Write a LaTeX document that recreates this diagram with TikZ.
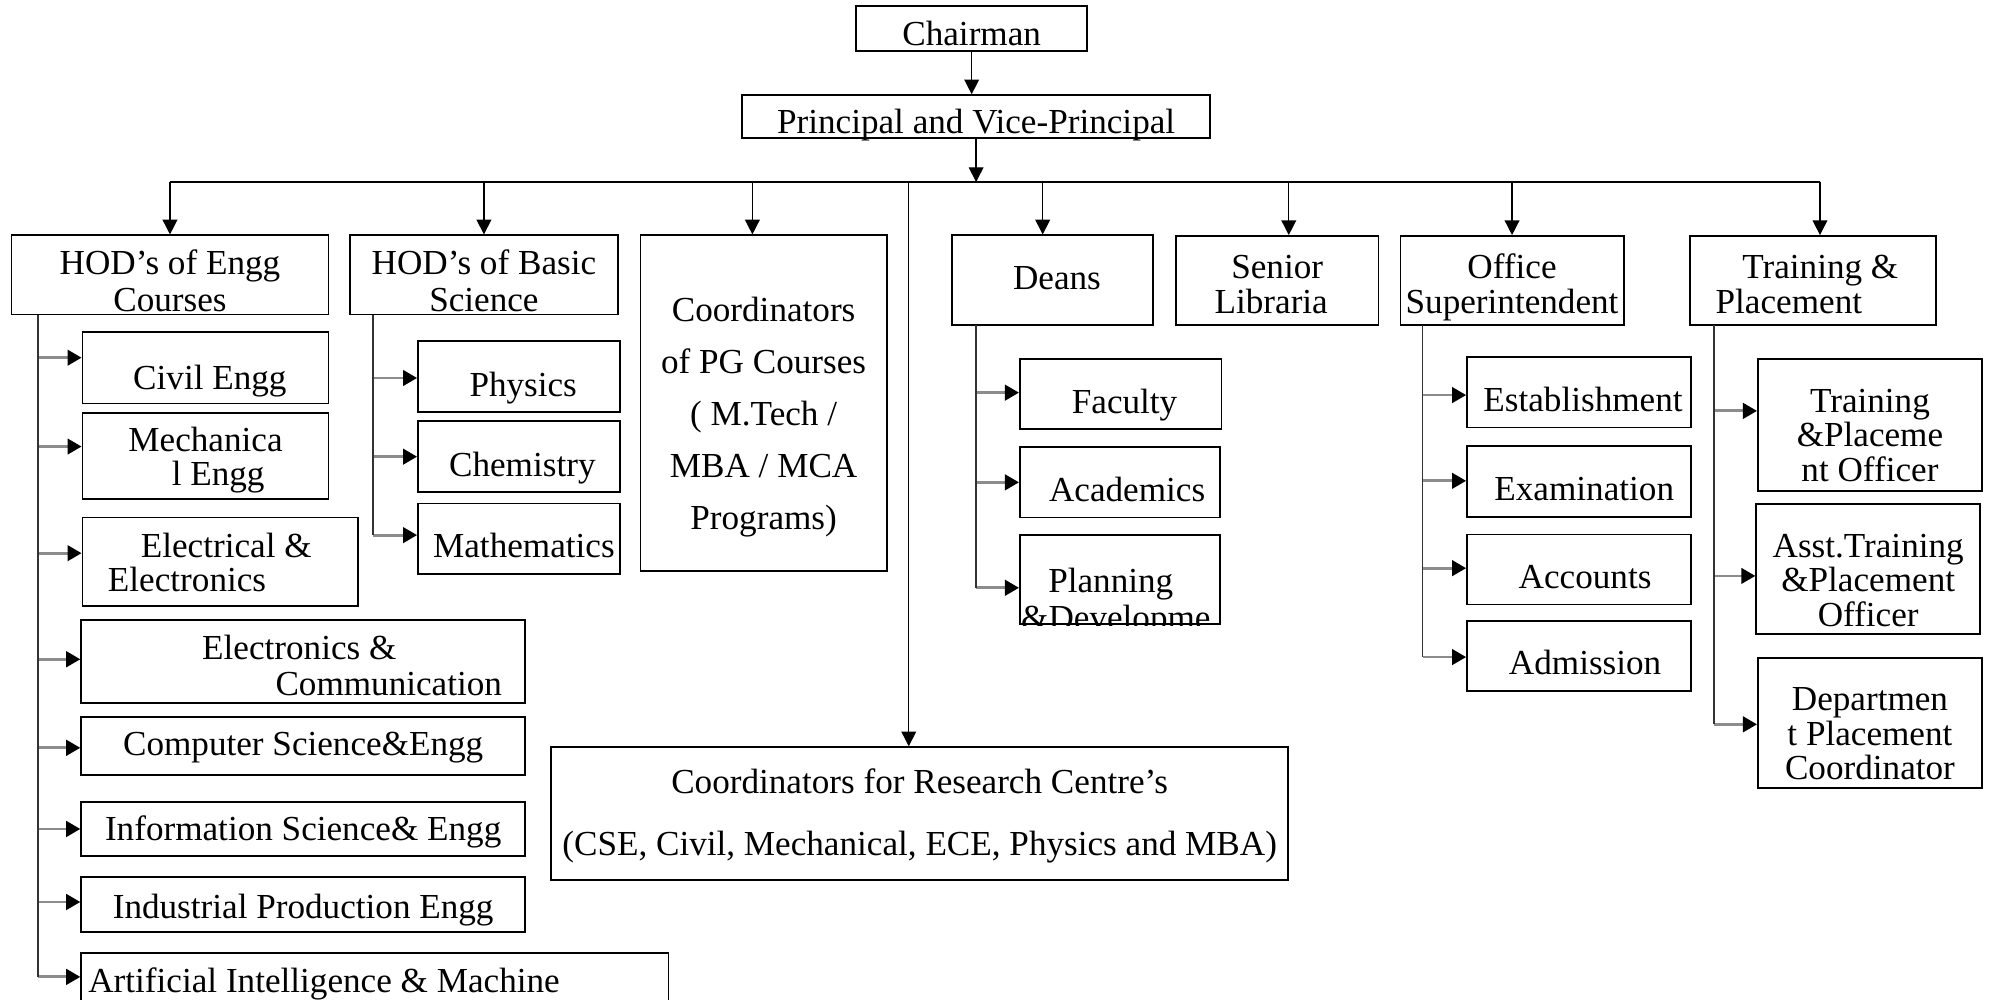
\documentclass[tikz,border=0pt]{standalone}
\usepackage{fontspec}
\setmainfont{Liberation Serif}
\usetikzlibrary{arrows.meta}
\newcommand\toph[1]{\rule{0pt}{#1pt}}
\newcommand\botd{\rule[-2.5pt]{0pt}{0pt}}

\begin{document}
\begin{tikzpicture}[x=0.3609pt, y=-0.3609pt,
  box/.style={draw, line width=0.5pt, inner xsep=0pt, inner ysep=-6pt, align=center, font=\fontsize{10}{9.8}\selectfont},
  wh/.style 2 args={minimum width=#1*0.3609pt, minimum height=#2*0.3609pt},
  conn/.style={line width=0.4pt, -{Triangle[length=4.2pt,width=4.2pt]}},
  busline/.style={line width=0.6pt},
  spine/.style={line width=0.45pt, black!80},
  branch/.style={black!45, line width=0.8pt, -{Triangle[length=4pt,width=4.4pt,black]}}]
  \useasboundingbox (0,0) rectangle (1568,788);

  \node[box, wh={182}{35}] (chair) at (766,22.5) {\toph{11.9}Chairman\botd};
  \node[box, wh={369}{34}] (principal) at (769.5,92) {\toph{11.9}Principal and Vice-Principal\botd};

  \node[box, wh={250}{62.5}] (hodengg) at (134,216.75) {\toph{12.7}HOD’s of Engg\\[0.9pt]Courses\botd};
  \node[box, wh={211}{62.5}] (hodbasic) at (381.5,216.75) {\toph{12.7}HOD’s of Basic\\[0.9pt]Science\botd};
  \node[box, wh={194}{264.5}] (pg) at (602,317.75) {\toph{15.35}Coordinators\\[5pt]of PG Courses\\[5pt]( M.Tech /\\[5pt]MBA / MCA\\[5pt]Programs)\botd};
  \node[box, wh={158.5}{70.5}] (deans) at (829.75,220.75) {\toph{7.7}\hspace*{2.5pt}Deans\botd};
  \node[box, wh={159.7}{70}] (senior) at (1006.85,221) {\toph{11.5}Senior\\Libraria\hspace*{3.4pt}\botd};
  \node[box, wh={176}{70}] (office) at (1192,221) {\toph{11.5}Office\\Superintendent\botd};
  \node[box, wh={193.6}{70}] (training) at (1429.2,221) {\toph{11.5}\hspace*{4.2pt}Training \&\\Placement\hspace*{13.7pt}\botd};
  \node[box, wh={581}{105}] (research) at (725,641.5) {\toph{8.6}Coordinators for Research Centre’s\\[7.6pt](CSE, Civil, Mechanical, ECE, Physics and MBA)\botd};

  \node[box, wh={194}{56}] (civil) at (162,290) {\toph{14.7}\hspace*{2.5pt}Civil Engg\botd};
  \node[box, wh={194}{68}] (mech) at (162,359.5) {\toph{9.6}Mechanica\\\hspace*{7.2pt}l Engg\botd};
  \node[box, wh={217}{70}] (elec) at (173.5,443) {\toph{9.6}\hspace*{3.5pt}Electrical \&\\Electronics\hspace*{18.8pt}\botd};
  \node[box, wh={350}{65}] (ece) at (239,521.5) {\toph{11.5}Electronics \&\hspace*{2.2pt}\\[0.4pt]\hspace*{48.7pt}Communication\botd};
  \node[box, wh={350}{46}] (cse) at (239,588) {\toph{7.9}Computer Science\&Engg\botd};
  \node[box, wh={350}{43}] (ise) at (239,653.5) {\toph{8.9}Information Science\& Engg\botd};
  \node[box, wh={350}{43}] (ipe) at (239,713) {\toph{10.4}Industrial Production Engg\botd};
  \node[box, wh={463}{48.7}] (ai) at (295.5,775.65) {\toph{7.1}Artificial Intelligence \& Machine\hspace*{28.9pt}\botd};

  \node[box, wh={159}{56}] (phys) at (409,297) {\toph{13.5}\hspace*{2.5pt}Physics\botd};
  \node[box, wh={159}{56}] (chem) at (409,360) {\toph{13.7}\hspace*{2pt}Chemistry\botd};
  \node[box, wh={159}{55.5}] (math) at (409,424.75) {\toph{13.4}\hspace*{2.9pt}Mathematics\botd};

  \node[box, wh={159}{55}] (faculty) at (883.5,310.5) {\toph{13.8}\hspace*{2.2pt}Faculty\botd};
  \node[box, wh={158}{55.5}] (acad) at (883,380.25) {\toph{13.5}\hspace*{4pt}Academics\botd};
  \begin{scope}
    \clip (802,420) rectangle (964,493);
    \node[box, wh={158}{70}] (plan) at (883,457) {\toph{20.3}Planning\hspace*{5.3pt}\\[0.6pt]\&Developme\hspace*{2.4pt}\botd};
  \end{scope}

  \node[box, wh={176.5}{55.3}] (estab) at (1244.75,309.35) {\toph{13.1}\hspace*{2.3pt}Establishment\botd};
  \node[box, wh={176.5}{56}] (exam) at (1244.75,379.6) {\toph{13.4}\hspace*{3pt}Examination\botd};
  \node[box, wh={176.5}{55.2}] (acc) at (1244.75,449) {\toph{13.3}\hspace*{3.5pt}Accounts\botd};
  \node[box, wh={176.5}{55.1}] (adm) at (1244.75,517.15) {\toph{13.3}\hspace*{3.5pt}Admission\botd};

  \node[box, wh={176.7}{104}] (tpo) at (1474.15,335) {\toph{14.9}Training\\\&Placeme\\nt Officer\botd};
  \node[box, wh={176.5}{102.5}] (asst) at (1472.75,448.75) {\toph{15.4}Asst.Training\\\&Placement\\Officer\botd};
  \node[box, wh={176.7}{102.2}] (dept) at (1474.15,569.9) {\toph{15.2}Departmen\\t Placement\\Coordinator\botd};

  \coordinate (bus) at (769.5,143.5);
  \draw[conn] (chair.south) -- (chair.south |- principal.north);
  \draw[conn] (principal.south) -- (bus);
  \foreach \n/\d in {hodengg/0pt,hodbasic/0pt,pg/-3.2pt,deans/-2.8pt,senior/3.3pt,office/0pt,training/2pt}{
    \coordinate (drop) at ([xshift=\d]\n.north);
    \draw[conn] (drop |- bus) -- (drop);
  }
  \draw[busline] (hodengg.north |- bus) -- (drop |- bus);
  \coordinate (drop) at ([xshift=-3.1pt]research.north);
  \draw[conn] (drop |- bus) -- (drop);

  \coordinate (engspine) at (30,248);
  \coordinate (basicspine) at (294,248);
  \coordinate (deanspine) at (769.6,256);
  \coordinate (officespine) at (1121.5,256);
  \coordinate (trainspine) at (1351,256);

  \foreach \n/\d in {civil/2.9pt,mech/2.7pt,elec/2.5pt,ece/0.65pt,cse/-0.55pt,ise/0pt,ipe/0.7pt,ai/2pt}{
    \coordinate (tip) at ([yshift=\d]\n.west);
    \draw[branch] (engspine |- tip) -- (tip);
  }
  \draw[spine] (engspine) -- (engspine |- tip);
  \foreach \n/\d in {phys/-0.35pt,chem/0pt,math/1.05pt}{
    \coordinate (tip) at ([yshift=\d]\n.west);
    \draw[branch] (basicspine |- tip) -- (tip);
  }
  \draw[spine] (basicspine) -- (basicspine |- tip);
  \foreach \n/\d in {faculty/0.35pt,acad/0pt,plan/-2.3pt}{
    \coordinate (tip) at ([yshift=\d]\n.west);
    \draw[branch] (deanspine |- tip) -- (tip);
  }
  \draw[spine] (deanspine) -- (deanspine |- tip);
  \foreach \n/\d in {estab/-0.75pt,exam/0.2pt,acc/0.4pt,adm/-0.3pt}{
    \coordinate (tip) at ([yshift=\d]\n.west);
    \draw[branch] (officespine |- tip) -- (tip);
  }
  \draw[spine] (officespine) -- (officespine |- tip);
  \foreach \n/\d in {tpo/4pt,asst/-1.9pt,dept/-0.4pt}{
    \coordinate (tip) at ([yshift=\d]\n.west);
    \draw[branch] (trainspine |- tip) -- (tip);
  }
  \draw[spine] (trainspine) -- (trainspine |- tip);
\end{tikzpicture}
\end{document}
